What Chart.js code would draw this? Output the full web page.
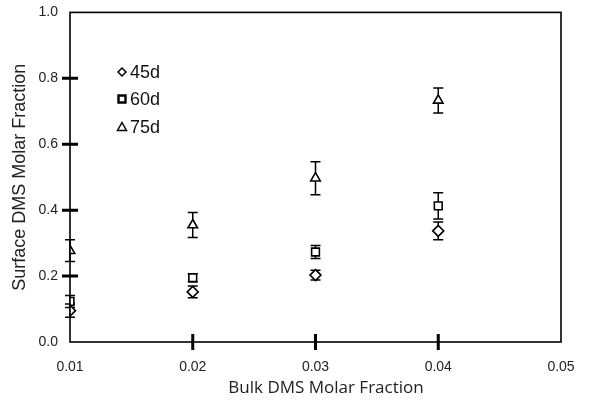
<!DOCTYPE html>
<html><head><meta charset="utf-8">
<script src="https://cdn.jsdelivr.net/npm/chart.js@4"></script>
<style>html,body{margin:0;padding:0;background:#fff}#wrap{width:600px;height:405px}</style>
</head><body><div id="wrap"><canvas id="c" width="600" height="405"></canvas></div>
<script>
const bulk = [0.01, 0.02, 0.03, 0.04];
const series = ['45d', '60d', '75d'];
const d45 = [0.095, 0.152, 0.203, 0.337];
const d60 = [0.123, 0.195, 0.273, 0.413];
const d75 = [0.277, 0.355, 0.497, 0.733];
const e45 = [0.02, 0.018, 0.015, 0.027];
const e60 = [0.018, 0.012, 0.02, 0.04];
const e75 = [0.033, 0.038, 0.05, 0.038];
const xTicks = ['0.01', '0.02', '0.03', '0.04', '0.05'];
const yTicks = ['0.0', '0.2', '0.4', '0.6', '0.8', '1.0'];
const xTitle = 'Bulk DMS Molar Fraction';
const yTitle = 'Surface DMS Molar Fraction';

const styles = ['rectRot', 'rect', 'triangle'];
const vals = [d45, d60, d75];
const errs = [e45, e60, e75];

const datasets = series.map((s, i) => ({
  label: s,
  data: bulk.map((x, j) => ({x: x, y: vals[i][j]})),
  errs: errs[i],
  pointStyle: styles[i],
  pointRadius: 5.5,
  backgroundColor: '#fff',
  borderColor: '#000',
  borderWidth: 1.6,
  showLine: false
}));

const deco = {
  id: 'deco',
  beforeDatasetsDraw(chart) {
    const ctx = chart.ctx, xs = chart.scales.x, ys = chart.scales.y;
    ctx.save();
    ctx.strokeStyle = '#000';
    ctx.lineWidth = 1.5;
    chart.data.datasets.forEach(ds => {
      ds.data.forEach((p, j) => {
        const e = ds.errs[j];
        const px = xs.getPixelForValue(p.x);
        const t = ys.getPixelForValue(p.y + e), b = ys.getPixelForValue(p.y - e);
        ctx.beginPath();
        ctx.moveTo(px, t); ctx.lineTo(px, b);
        ctx.moveTo(px - 5, t); ctx.lineTo(px + 5, t);
        ctx.moveTo(px - 5, b); ctx.lineTo(px + 5, b);
        ctx.stroke();
      });
    });
    ctx.restore();
  },
  afterDraw(chart) {
    const ctx = chart.ctx, a = chart.chartArea, xs = chart.scales.x, ys = chart.scales.y;
    ctx.save();
    ctx.strokeStyle = '#000';
    ctx.lineWidth = 1.6;
    ctx.strokeRect(a.left, a.top, a.right - a.left, a.bottom - a.top);
    ctx.lineWidth = 3;
    ctx.beginPath();
    [0.2, 0.4, 0.6, 0.8].forEach(v => {
      const py = ys.getPixelForValue(v);
      ctx.moveTo(a.left - 8, py); ctx.lineTo(a.left + 8, py);
    });
    [0.02, 0.03, 0.04].forEach(v => {
      const px = xs.getPixelForValue(v);
      ctx.moveTo(px, a.bottom - 8); ctx.lineTo(px, a.bottom + 8);
    });
    ctx.stroke();
    // x title
    ctx.fillStyle = '#222';
    ctx.font = '17px "Open Sans", "DejaVu Sans", sans-serif';
    ctx.textAlign = 'center';
    ctx.textBaseline = 'middle';
    ctx.fillText(xTitle, 326, 388);
    // legend
    const lx = 122, ly = [72, 99, 127];
    ctx.textAlign = 'left';
    ctx.lineWidth = 1.5;
    ctx.font = '18px "Liberation Sans", Arial, sans-serif';
    series.forEach((s, i) => {
      ctx.beginPath();
      if (i === 0) {
        ctx.moveTo(lx, ly[i] - 4); ctx.lineTo(lx + 4, ly[i]); ctx.lineTo(lx, ly[i] + 4); ctx.lineTo(lx - 4, ly[i]); ctx.closePath();
        ctx.stroke();
      } else if (i === 1) {
        ctx.lineWidth = 2.4;
        ctx.rect(lx - 3.5, ly[i] - 3.5, 7, 7);
        ctx.stroke();
        ctx.lineWidth = 1.5;
      } else {
        ctx.moveTo(lx, ly[i] - 4.5); ctx.lineTo(lx + 4.5, ly[i] + 3.5); ctx.lineTo(lx - 4.5, ly[i] + 3.5); ctx.closePath();
        ctx.stroke();
      }
      ctx.fillStyle = '#111';
      ctx.fillText(s, lx + 8, ly[i] + 1);
    });
    ctx.restore();
  }
};

new Chart(document.getElementById('c'), {
  type: 'scatter',
  data: {datasets: datasets},
  options: {
    responsive: false,
    animation: false,
    devicePixelRatio: 1,
    layout: {padding: {left: 4, right: 39, top: 11, bottom: 0}},
    plugins: {legend: {display: false}, tooltip: {enabled: false}},
    scales: {
      x: {
        type: 'linear', min: 0.01, max: 0.05,
        afterBuildTicks(s) { s.ticks = xTicks.map(t => ({value: parseFloat(t)})); },
        afterFit(s) { s.height = 63; },
        grid: {display: false},
        border: {display: false},
        ticks: {callback: (v, i) => xTicks[i], color: '#222', font: {size: 14, family: '"Liberation Sans", Arial'}, padding: 9, maxRotation: 0},
        title: {display: false}
      },
      y: {
        min: 0, max: 1.0,
        afterBuildTicks(s) { s.ticks = yTicks.map(t => ({value: parseFloat(t)})); },
        afterFit(s) { s.width = 66; },
        grid: {display: false},
        border: {display: false},
        ticks: {callback: (v, i) => yTicks[i], color: '#222', font: {size: 14, family: '"Liberation Sans", Arial'}, padding: 4},
        title: {display: true, text: yTitle, color: '#222', font: {size: 18, family: '"Liberation Sans", Arial'}, padding: {top: 5, bottom: 0}}
      }
    }
  },
  plugins: [deco]
});
</script>
</body></html>
